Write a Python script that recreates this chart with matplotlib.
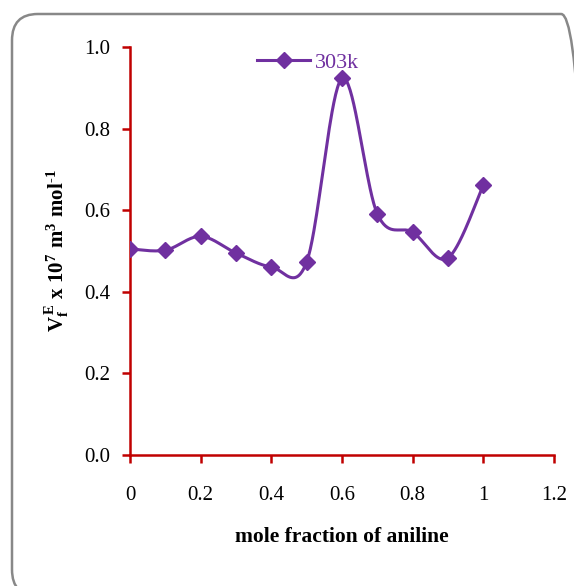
import numpy as np
import matplotlib.pyplot as plt
from matplotlib.patches import FancyBboxPatch

# ===============================
#  Data
# ===============================

mole_fraction = [0.0, 0.1, 0.2, 0.3, 0.4, 0.5, 0.6, 0.7, 0.8, 0.9, 1.0]
vfe_303k = [0.505, 0.502, 0.536, 0.495, 0.461, 0.473, 0.923, 0.591, 0.546, 0.483, 0.661]
x_ticks = [0, 0.2, 0.4, 0.6, 0.8, 1, 1.2]
x_tick_labels = ["0", "0.2", "0.4", "0.6", "0.8", "1", "1.2"]
y_ticks = [0.0, 0.2, 0.4, 0.6, 0.8, 1.0]
y_tick_labels = ["0.0", "0.2", "0.4", "0.6", "0.8", "1.0"]

PURPLE = "#7030A0"
AXIS_RED = "#C00000"


# ===============================
#  Excel-like smoothed line
# ===============================

def smooth_curve(xs, ys, steps=40):
    xs = np.asarray(xs, dtype=float)
    ys = np.asarray(ys, dtype=float)
    px = np.concatenate([[xs[0]], xs, [xs[-1]]])
    py = np.concatenate([[ys[0]], ys, [ys[-1]]])
    out_x, out_y = [], []
    t = np.linspace(0, 1, steps)
    for i in range(1, len(px) - 2):
        p0 = np.array([px[i], py[i]])
        p3 = np.array([px[i + 1], py[i + 1]])
        p1 = p0 + (np.array([px[i + 1], py[i + 1]]) - np.array([px[i - 1], py[i - 1]])) / 6
        p2 = p3 - (np.array([px[i + 2], py[i + 2]]) - np.array([px[i], py[i]])) / 6
        seg = ((1 - t) ** 3)[:, None] * p0 + (3 * (1 - t) ** 2 * t)[:, None] * p1 \
            + (3 * (1 - t) * t ** 2)[:, None] * p2 + (t ** 3)[:, None] * p3
        out_x.extend(seg[:, 0])
        out_y.extend(seg[:, 1])
    return out_x, out_y


plt.rcParams["font.family"] = "Liberation Serif"
plt.rcParams["mathtext.fontset"] = "custom"
plt.rcParams["mathtext.rm"] = "Liberation Serif:bold"
plt.rcParams["mathtext.bf"] = "Liberation Serif:bold"
plt.rcParams["mathtext.it"] = "Liberation Serif:bold"

fig = plt.figure(figsize=(5.74, 5.86), dpi=100)

# rounded chart-area frame
frame = FancyBboxPatch((12 / 574, -10 / 586), 575 / 574, 582 / 586,
                       boxstyle="round,pad=0,rounding_size=0.045",
                       transform=fig.transFigure, facecolor="none",
                       edgecolor="#888888", linewidth=1.8, zorder=-1)
fig.patches.append(frame)

ax = fig.add_axes([130 / 574, 1 - 455 / 586, 424 / 574, 408 / 586])
ax.patch.set_alpha(0)

sx, sy = smooth_curve(mole_fraction, vfe_303k)
ax.plot(sx, sy, color=PURPLE, linewidth=2.2, zorder=3)
ax.plot(mole_fraction, vfe_303k, linestyle="none", marker="D", markersize=8,
        color=PURPLE, zorder=4)
# legend proxy
ax.plot([], [], color=PURPLE, linewidth=2.2, marker="D", markersize=8, label="303k")

ax.set_xlim(0, 1.2)
ax.set_ylim(0, 1.0)
ax.set_xticks(x_ticks)
ax.set_xticklabels(x_tick_labels)
ax.set_yticks(y_ticks)
ax.set_yticklabels(y_tick_labels)

for side in ["top", "right"]:
    ax.spines[side].set_visible(False)
for side in ["left", "bottom"]:
    ax.spines[side].set_color(AXIS_RED)
    ax.spines[side].set_linewidth(1.8)

ax.tick_params(axis="both", direction="out", length=6, width=1.8, color=AXIS_RED,
               labelsize=15, labelcolor="black")
ax.tick_params(axis="x", pad=16)
ax.tick_params(axis="y", pad=8)

ax.set_xlabel("mole fraction of aniline", fontsize=15.5, fontweight="bold", labelpad=16)
ax.set_ylabel("$\\mathbf{V_f^{\\,E}\\ x\\ 10^7\\ m^3\\ mol^{\u20101}}$",
              fontsize=15, labelpad=10)

leg = ax.legend(loc="upper center", bbox_to_anchor=(0.42, 1.035), frameon=False,
                fontsize=16, handlelength=2.4, handletextpad=0.2)
for text in leg.get_texts():
    text.set_color(PURPLE)

fig.savefig("out.png", dpi=100)
